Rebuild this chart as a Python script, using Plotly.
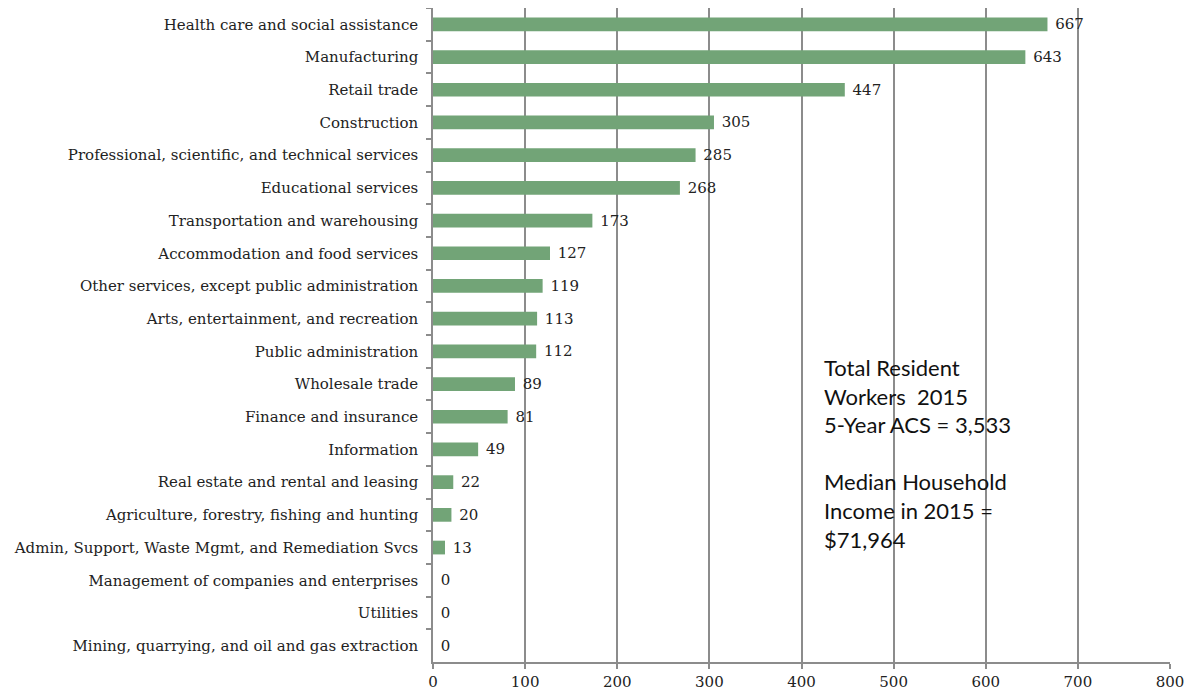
import plotly.graph_objects as go

categories = [
    "Health care and social assistance",
    "Manufacturing",
    "Retail trade",
    "Construction",
    "Professional, scientific, and technical services",
    "Educational services",
    "Transportation and warehousing",
    "Accommodation and food services",
    "Other services, except public administration",
    "Arts, entertainment, and recreation",
    "Public administration",
    "Wholesale trade",
    "Finance and insurance",
    "Information",
    "Real estate and rental and leasing",
    "Agriculture, forestry, fishing and hunting",
    "Admin, Support, Waste Mgmt, and Remediation Svcs",
    "Management of companies and enterprises",
    "Utilities",
    "Mining, quarrying, and oil and gas extraction",
]
values = [667, 643, 447, 305, 285, 268, 173, 127, 119, 113, 112, 89, 81, 49, 22, 20, 13, 0, 0, 0]
x_ticks = [0, 100, 200, 300, 400, 500, 600, 700, 800]

serif = "DejaVu Serif, Liberation Serif, serif"

fig = go.Figure(go.Bar(
    y=categories,
    x=values,
    orientation="h",
    marker=dict(color="#72a477", line=dict(width=0)),
    text=["&nbsp;" + str(v) for v in values],
    textposition="outside",
    constraintext="none",
    textfont=dict(family=serif, size=15, color="#222"),
    cliponaxis=False,
    width=0.42,
))

# page body has an 8px margin; figure is placed at (8, 8)
fig.update_layout(
    width=1194, height=686,
    margin=dict(l=425, r=32, t=0, b=32),
    plot_bgcolor="white", paper_bgcolor="white",
    showlegend=False,
    font=dict(family=serif, size=15, color="#222"),
    xaxis=dict(
        range=[0, 800], tickvals=x_ticks, ticktext=[str(t) for t in x_ticks],
        showgrid=True, gridcolor="#8c8c8c", gridwidth=1.5,
        showline=True, linecolor="#8c8c8c", linewidth=1.5,
        ticks="outside", ticklen=5, tickcolor="#8c8c8c", tickwidth=1.5,
        zeroline=False, tickfont=dict(family=serif, size=15), automargin=False,
    ),
    yaxis=dict(
        categoryorder="array", categoryarray=categories, autorange="reversed",
        showline=True, linecolor="#8c8c8c", linewidth=1.5,
        ticks="outside", ticklen=5, tickcolor="#8c8c8c", tickwidth=1.5,
        tickson="boundaries", showgrid=False, ticklabelstandoff=10,
        tickfont=dict(family=serif, size=15), automargin=False,
    ),
)

fig.add_annotation(
    xref="paper", yref="paper", x=(822 - 433) / (1170 - 433), y=(662 - 352) / 654,
    xanchor="left", yanchor="top", align="left", showarrow=False,
    text="Total Resident<br>Workers  2015<br>5-Year ACS = 3,533<br><br>Median Household<br>Income in 2015 =<br>$71,964",
    font=dict(family="Lato, Noto Sans, sans-serif", size=22, color="#111"),
)

fig.write_html("out.html")
